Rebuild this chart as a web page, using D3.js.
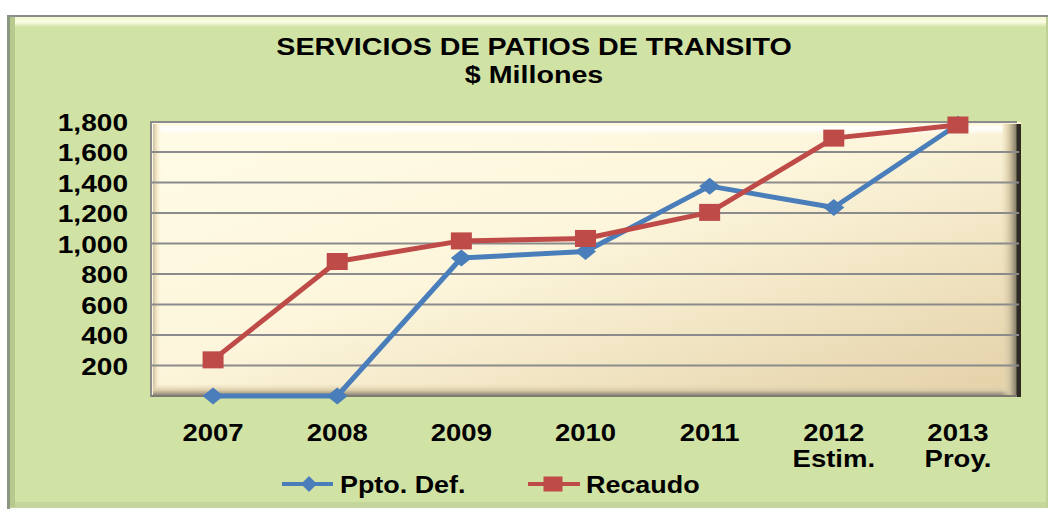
<!DOCTYPE html>
<html>
<head>
<meta charset="utf-8">
<script src="https://cdn.jsdelivr.net/npm/d3@7"></script>
<style>
  body { margin: 0; background: #fff; }
  text { font-family: "Liberation Sans", Arial, sans-serif; font-weight: bold; fill: #000; }
</style>
</head>
<body>
<div id="chart"></div>
<script>
// data
const years = ["2007", "2008", "2009", "2010", "2011", "2012", "2013"];
const yearSub = ["", "", "", "", "", "Estim.", "Proy."];
const ppto = [0, 0, 905, 948, 1376, 1236, 1782];
const recaudo = [237, 882, 1017, 1033, 1204, 1691, 1777];
const yTicks = [200, 400, 600, 800, 1000, 1200, 1400, 1600, 1800];

const W = 1050, H = 511;
const plot = { left: 151, right: 1021, top: 122, bottom: 397 };
const sx = 1.17; // the original is stretched sideways

const svg = d3.select("#chart").append("svg")
  .attr("width", W).attr("height", H);

const defs = svg.append("defs");
const pg = defs.append("linearGradient").attr("id", "plotFill")
  .attr("x1", "0").attr("y1", "0").attr("x2", "1").attr("y2", "1");
pg.append("stop").attr("offset", "0").attr("stop-color", "#fffce6");
pg.append("stop").attr("offset", "0.45").attr("stop-color", "#fdf6dc");
pg.append("stop").attr("offset", "1").attr("stop-color", "#e3d0a6");

const rb = defs.append("linearGradient").attr("id", "rightBevel")
  .attr("x1", "0").attr("y1", "0").attr("x2", "1").attr("y2", "0");
rb.append("stop").attr("offset", "0").attr("stop-color", "#e9dcb8").attr("stop-opacity", 0);
rb.append("stop").attr("offset", "0.45").attr("stop-color", "#cfc2a0");
rb.append("stop").attr("offset", "0.75").attr("stop-color", "#8a826d");
rb.append("stop").attr("offset", "0.8").attr("stop-color", "#2f2b22");
rb.append("stop").attr("offset", "1").attr("stop-color", "#2f2b22");

const bb = defs.append("linearGradient").attr("id", "bottomBevel")
  .attr("x1", "0").attr("y1", "0").attr("x2", "0").attr("y2", "1");
bb.append("stop").attr("offset", "0").attr("stop-color", "#e9dcb8").attr("stop-opacity", 0);
bb.append("stop").attr("offset", "0.5").attr("stop-color", "#d8caa6");
bb.append("stop").attr("offset", "0.8").attr("stop-color", "#9a9180");
bb.append("stop").attr("offset", "1").attr("stop-color", "#7d7a72");

const tb = defs.append("linearGradient").attr("id", "topBevel")
  .attr("x1", "0").attr("y1", "0").attr("x2", "0").attr("y2", "1");
tb.append("stop").attr("offset", "0").attr("stop-color", "#fff8dc");
tb.append("stop").attr("offset", "0.35").attr("stop-color", "#ffffff");
tb.append("stop").attr("offset", "1").attr("stop-color", "#ffffff").attr("stop-opacity", 0);

const lb = defs.append("linearGradient").attr("id", "leftBevel")
  .attr("x1", "0").attr("y1", "0").attr("x2", "1").attr("y2", "0");
lb.append("stop").attr("offset", "0").attr("stop-color", "#c9c0a6");
lb.append("stop").attr("offset", "0.4").attr("stop-color", "#f3e6c4");
lb.append("stop").attr("offset", "1").attr("stop-color", "#fffbe6").attr("stop-opacity", 0);

const ot = defs.append("linearGradient").attr("id", "outerTop")
  .attr("x1", "0").attr("y1", "0").attr("x2", "0").attr("y2", "1");
ot.append("stop").attr("offset", "0").attr("stop-color", "#f3f9cf");
ot.append("stop").attr("offset", "0.5").attr("stop-color", "#fbfde4");
ot.append("stop").attr("offset", "1").attr("stop-color", "#d1e2a5");

// outer chart area
svg.append("rect").attr("x", 8).attr("y", 16).attr("width", 1040).attr("height", 492)
  .attr("fill", "#d1e2a5");
svg.append("rect").attr("x", 10).attr("y", 17).attr("width", 1036).attr("height", 10)
  .attr("fill", "url(#outerTop)");
svg.append("rect").attr("x", 10).attr("y", 502).attr("width", 1038).attr("height", 6)
  .attr("fill", "#c4d69b");
svg.append("rect").attr("x", 7).attr("y", 15).attr("width", 1041).attr("height", 2)
  .attr("fill", "#8c8c8c");
svg.append("rect").attr("x", 7).attr("y", 15).attr("width", 3).attr("height", 494)
  .attr("fill", "#8c9780");
svg.append("rect").attr("x", 10).attr("y", 17).attr("width", 5).attr("height", 490)
  .attr("fill", "#b8c98e");
svg.append("rect").attr("x", 1046).attr("y", 17).attr("width", 2).attr("height", 491)
  .attr("fill", "#bfd195");

// scales
const x = d3.scalePoint().domain(years).range([plot.left, plot.right - 1]).padding(0.5);
const y = d3.scaleLinear().domain([0, 1800]).range([396, 121.5]);

// plot area with bevel
const pw = plot.right - plot.left, ph = plot.bottom - plot.top;
svg.append("rect").attr("x", plot.left).attr("y", plot.top).attr("width", pw).attr("height", ph)
  .attr("fill", "url(#plotFill)");
svg.append("rect").attr("x", plot.left + 2).attr("y", plot.top + 2).attr("width", pw - 20).attr("height", 11)
  .attr("fill", "url(#topBevel)");
svg.append("rect").attr("x", plot.left + 2).attr("y", plot.top + 2).attr("width", 9).attr("height", ph - 4)
  .attr("fill", "url(#leftBevel)");
svg.append("rect").attr("x", plot.left + 2).attr("y", plot.bottom - 13).attr("width", pw - 4).attr("height", 13)
  .attr("fill", "url(#bottomBevel)");
svg.append("rect").attr("x", plot.right - 20).attr("y", plot.top + 2).attr("width", 20).attr("height", ph - 2)
  .attr("fill", "url(#rightBevel)");
svg.append("path")
  .attr("d", `M${plot.left},${plot.bottom}V${plot.top}H${plot.right - 4}`)
  .attr("fill", "none").attr("stroke", "#8c8c8c").attr("stroke-width", 2);
svg.append("line").attr("x1", plot.left).attr("x2", plot.right - 4)
  .attr("y1", plot.bottom - 1).attr("y2", plot.bottom - 1)
  .attr("stroke", "#7d7a72").attr("stroke-width", 2);

// gridlines
svg.append("g").selectAll("line").data(yTicks.slice(0, -1)).join("line")
  .attr("x1", plot.left).attr("x2", plot.right - 2)
  .attr("y1", d => y(d)).attr("y2", d => y(d))
  .attr("stroke", "#8b8b8b").attr("stroke-width", 2);

// stretched text helper
function label(g, txt, tx, ty, size, anchor) {
  g.append("text")
    .attr("transform", `translate(${tx},${ty}) scale(${sx},1)`)
    .attr("text-anchor", anchor || "middle")
    .style("font-size", size + "px")
    .text(txt);
}

// title
const tg = svg.append("g");
label(tg, "SERVICIOS DE PATIOS DE TRANSITO", 534, 55, 24.5);
label(tg, "$ Millones", 534, 83, 24.5);

// y axis labels
const yg = svg.append("g");
yTicks.forEach(v => label(yg, d3.format(",")(v), 128, y(v) + 9, 24, "end"));

// x axis labels
const xg = svg.append("g");
years.forEach((yr, i) => {
  label(xg, yr, x(yr), 441, 23.5);
  if (yearSub[i]) label(xg, yearSub[i], x(yr), 467, 23.5);
});

// series
const blue = "#4a7ebb", red = "#be4b48";
const line = d3.line().x((d, i) => x(years[i])).y(d => y(d));

function diamond(w, h) { return `M0,${-h}L${w},0L0,${h}L${-w},0Z`; }

svg.append("path").datum(ppto).attr("d", line)
  .attr("fill", "none").attr("stroke", blue).attr("stroke-width", 5).attr("stroke-linejoin", "round");
svg.append("path").datum(recaudo).attr("d", line)
  .attr("fill", "none").attr("stroke", red).attr("stroke-width", 5).attr("stroke-linejoin", "round");

svg.append("g").selectAll("path").data(ppto).join("path")
  .attr("transform", (d, i) => `translate(${x(years[i])},${y(d)})`)
  .attr("d", diamond(10.5, 8.5)).attr("fill", blue);
svg.append("g").selectAll("rect").data(recaudo).join("rect")
  .attr("x", (d, i) => x(years[i]) - 10.5).attr("y", d => y(d) - 8.5)
  .attr("width", 21).attr("height", 17).attr("fill", red);

// legend
const lg = svg.append("g");
lg.append("line").attr("x1", 282).attr("x2", 333).attr("y1", 484).attr("y2", 484)
  .attr("stroke", blue).attr("stroke-width", 4);
lg.append("path").attr("transform", "translate(309,484)").attr("d", diamond(8, 8)).attr("fill", blue);
label(lg, "Ppto. Def.", 340, 493, 23, "start");
lg.append("line").attr("x1", 528).attr("x2", 580).attr("y1", 484).attr("y2", 484)
  .attr("stroke", red).attr("stroke-width", 4);
lg.append("rect").attr("x", 543.5).attr("y", 476.5).attr("width", 19).attr("height", 15).attr("fill", red);
label(lg, "Recaudo", 586, 493, 23, "start");
</script>
</body>
</html>
